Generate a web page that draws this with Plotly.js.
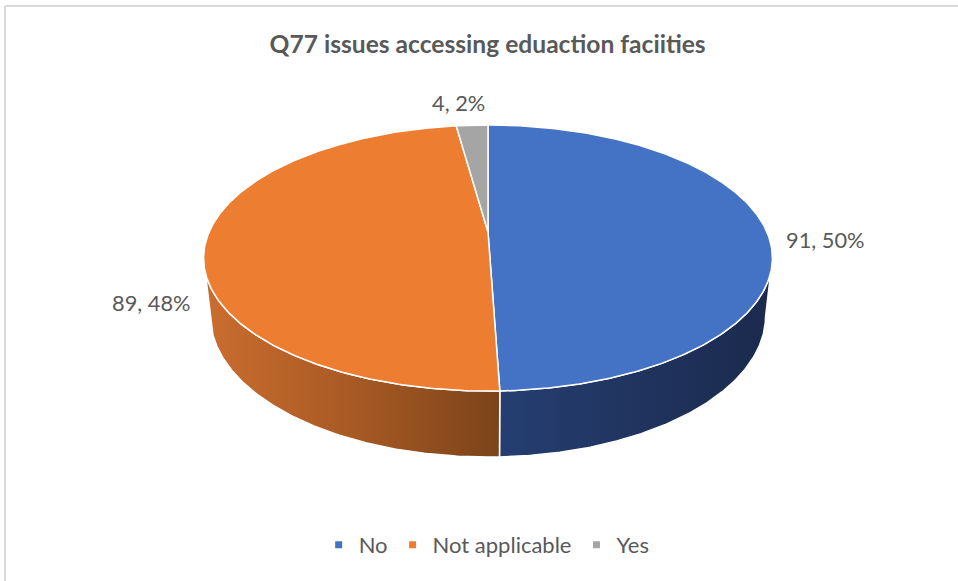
<!DOCTYPE html>
<html><head><meta charset="utf-8">
<script src="https://cdn.plot.ly/plotly-3.0.1.min.js"></script>
<style>html,body{margin:0;padding:0;background:#fff}</style>
</head><body><div id="chart" style="width:958px;height:581px"></div>
<script>
// ---- data ----
const categories = ["No", "Not applicable", "Yes"];
const counts = [91, 89, 4];
const percents = [50, 48, 2];
const chartTitle = "Q77 issues accessing eduaction faciities";

// ---- styles ----
const topColors = ["#4472C4", "#ED7D31", "#A5A5A5"];
const sideScales = [
  [[0, "#253e71"], [1, "#1b2a4d"]],
  [[0, "#cb6d2f"], [0.5, "#a85a24"], [1, "#7c4319"]],
  [[0, "#707070"], [1, "#5a5a5a"]]
];
const labelShift = [[4, -10], [4, -57], [-11, 5]];
const textColor = "#595959";
const fontFam = "Lato, 'Open Sans', sans-serif";

// ---- 3D projection of a tilted disc ----
const CX = 488, CY = 232, K = 1268, D = 4.546, TILT = 27.3 * Math.PI / 180, H = 0.236;
function proj(phiDeg, r, h) {
  const p = phiDeg * Math.PI / 180;
  const u = r * Math.sin(p), v = r * Math.cos(p);
  const Y = v * Math.sin(TILT) - h * Math.cos(TILT);
  const Z = v * Math.cos(TILT) + h * Math.sin(TILT);
  return [CX + K * u / (D + Z), CY - K * Y / (D + Z)];
}
function arc(a, b, h) {
  const pts = [];
  const n = Math.max(2, Math.ceil(Math.abs(b - a) / 0.5));
  for (let i = 0; i <= n; i++) pts.push(proj(a + (b - a) * i / n, 1, h));
  return pts;
}
// silhouette angles of the side wall
const PHI_R = Math.acos(-Math.cos(TILT) / D) * 180 / Math.PI;
const PHI_L = 360 - PHI_R;

const total = counts.reduce((s, v) => s + v, 0);
const bounds = [];
let acc = 0;
counts.forEach(c => { const a = acc / total * 360; acc += c; bounds.push([a, acc / total * 360]); });

const traces = [];
// side walls (visible front part only)
bounds.forEach(([a, b], i) => {
  const s = Math.max(a, PHI_R), e = Math.min(b, PHI_L);
  if (e <= s) return;
  const pts = arc(s, e, 0).concat(arc(e, s, H));
  pts.push(pts[0]);
  traces.push({
    type: "scatter", mode: "lines", x: pts.map(p => p[0]), y: pts.map(p => p[1]),
    fill: "toself", fillgradient: { type: "horizontal", colorscale: sideScales[i] },
    line: { color: "#ffffff", width: 1.5 }, hoverinfo: "skip", showlegend: false
  });
});
// top faces
bounds.forEach(([a, b], i) => {
  const c = proj(0, 0, 0);
  const pts = [c].concat(arc(a, b, 0));
  pts.push(c);
  traces.push({
    type: "scatter", mode: "lines", x: pts.map(p => p[0]), y: pts.map(p => p[1]),
    fill: "toself", fillcolor: topColors[i],
    line: { color: "#ffffff", width: 1.5 }, hoverinfo: "skip", showlegend: false
  });
});
// legend entries
categories.forEach((name, i) => {
  traces.push({
    type: "scatter", mode: "markers", x: [null], y: [null], name: name,
    marker: { symbol: "square", size: 7, color: topColors[i] }, hoverinfo: "skip"
  });
});

// data labels
const annotations = bounds.map(([a, b], i) => {
  const p = proj((a + b) / 2, 1.2, 0);
  return {
    x: p[0], y: p[1], xref: "x", yref: "y", showarrow: false,
    text: counts[i] + ", " + percents[i] + "%",
    xshift: labelShift[i][0], yshift: labelShift[i][1],
    font: { family: fontFam, size: 21.8, color: textColor }
  };
});

const layout = {
  width: 958, height: 581,
  margin: { l: 0, r: 0, t: 0, b: 0 },
  paper_bgcolor: "#ffffff", plot_bgcolor: "#ffffff",
  xaxis: { range: [0, 958], visible: false, fixedrange: true },
  yaxis: { range: [581, 0], visible: false, fixedrange: true },
  title: {
    text: chartTitle, x: 0.509, xanchor: "center", y: 1 - 44 / 581, yanchor: "middle",
    font: { family: fontFam, size: 24.6, color: textColor, weight: "bold" }
  },
  showlegend: true,
  legend: {
    orientation: "h", x: 0.508, xanchor: "center", y: 1 - 545 / 581, yanchor: "middle",
    font: { family: fontFam, size: 22, color: textColor }, itemclick: false, itemdoubleclick: false
  },
  annotations: annotations,
  shapes: [
    { type: "line", xref: "paper", yref: "paper", x0: 5 / 958, x1: 1, y0: 1 - 6 / 581, y1: 1 - 6 / 581, line: { color: "#d9d9d9", width: 2 } },
    { type: "line", xref: "paper", yref: "paper", x0: 5 / 958, x1: 5 / 958, y0: 0, y1: 1 - 6 / 581, line: { color: "#d9d9d9", width: 2 } }
  ],
  hovermode: false
};

Plotly.newPlot("chart", traces, layout, { displayModeBar: false, staticPlot: true });
</script>
</body></html>
